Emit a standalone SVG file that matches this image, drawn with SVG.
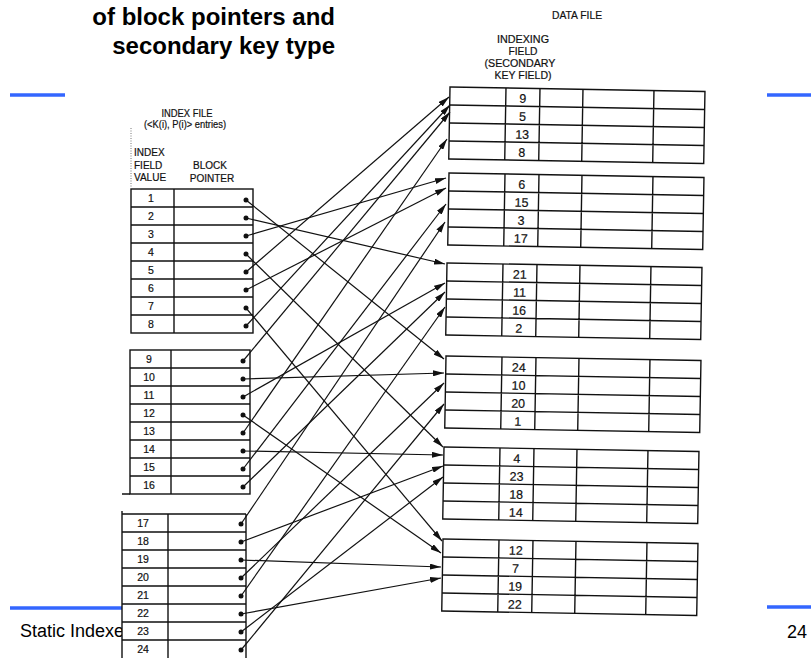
<svg xmlns="http://www.w3.org/2000/svg" width="811" height="658" viewBox="0 0 811 658">
  <defs>
    <style>
      .title { font-family: "Liberation Sans", Arial, sans-serif; font-weight: bold; font-size: 24px; fill: #000; text-anchor: end; }
      .foot { font-family: "Liberation Sans", Arial, sans-serif; font-size: 18px; fill: #000; }
      .rule { stroke: #3366ff; stroke-width: 3.5; fill: none; }
      .hdr { font-family: "Liberation Sans", Arial, sans-serif; font-size: 10px; fill: #111; stroke: #111; stroke-width: 0.2; text-anchor: middle; }
      .hdrl { font-family: "Liberation Sans", Arial, sans-serif; font-size: 10px; fill: #111; stroke: #111; stroke-width: 0.2; }
      .grid { stroke: #111; stroke-width: 1.4; fill: none; }
      .ik { font-family: "Liberation Sans", Arial, sans-serif; font-size: 10.5px; fill: #111; stroke: #111; stroke-width: 0.2; text-anchor: middle; }
      .dk { font-family: "Liberation Sans", Arial, sans-serif; font-size: 12.5px; fill: #111; stroke: #111; stroke-width: 0.2; text-anchor: middle; }
      .dot { fill: #111; }
      .link { stroke: #111; stroke-width: 1.2; fill: none; marker-end: url(#head); }
    </style>
    <marker id="head" markerWidth="11" markerHeight="6" refX="11" refY="3" orient="auto" markerUnits="userSpaceOnUse">
      <path d="M0,0 L11,3 L0,6 z" fill="#111"/>
    </marker>
    <!-- one data block: 4 records, 5 fields -->
    <g id="dblock">
      <rect class="grid" x="0" y="0" width="255" height="72"/>
      <path class="grid" d="M56,0V72M90,0V72M133,0V72M204,0V72M0,18H255M0,36H255M0,54H255"/>
    </g>
  </defs>

  <rect width="811" height="658" fill="#fff"/>

  <!-- slide title and frame rules -->
  <g id="title">
    <text class="title" x="335" y="25">of block pointers and</text>
    <text class="title" x="335" y="53.5">secondary key type</text>
  </g>
  <g id="rules">
    <line class="rule" x1="10" y1="95" x2="65" y2="95"/>
    <line class="rule" x1="767" y1="95" x2="811" y2="95"/>
    <line class="rule" x1="10" y1="608" x2="122" y2="608"/>
    <line class="rule" x1="767" y1="607" x2="811" y2="607"/>
  </g>
  <g id="footer">
    <text class="foot" x="20" y="637">Static Indexe</text>
    <text class="foot" x="807" y="638" text-anchor="end">24</text>
  </g>

  <!-- index file -->
  <g id="index-header">
    <text class="hdr" x="187" y="117" textLength="51" lengthAdjust="spacingAndGlyphs">INDEX FILE</text>
    <text class="hdr" x="185" y="128" textLength="82" lengthAdjust="spacingAndGlyphs" stroke-width="0.1">(&lt;K(i), P(i)&gt; entries)</text>
    <line x1="131" y1="128" x2="131" y2="188" stroke="#777" stroke-width="1" stroke-dasharray="1 1.5"/>
    <text class="hdrl" x="134" y="156">INDEX</text>
    <text class="hdrl" x="134" y="169">FIELD</text>
    <text class="hdrl" x="134" y="181">VALUE</text>
    <text class="hdr" x="210" y="169">BLOCK</text>
    <text class="hdr" x="212" y="182">POINTER</text>
  </g>

  <g id="index-block-1">
    <rect class="grid" x="131" y="189" width="122" height="144"/>
    <path class="grid" d="M174,189V333M131,207H253M131,225H253M131,243H253M131,261H253M131,279H253M131,297H253M131,315H253"/>
    <g class="ik">
      <text x="151" y="202">1</text><text x="151" y="220">2</text><text x="151" y="238">3</text><text x="151" y="256">4</text>
      <text x="151" y="274">5</text><text x="151" y="292">6</text><text x="151" y="310">7</text><text x="151" y="328">8</text>
    </g>
    <g class="dot">
      <circle cx="246" cy="200" r="2.5"/><circle cx="246" cy="218" r="2.5"/><circle cx="246" cy="236" r="2.5"/><circle cx="246" cy="254" r="2.5"/>
      <circle cx="246" cy="272" r="2.5"/><circle cx="246" cy="290" r="2.5"/><circle cx="246" cy="308" r="2.5"/><circle cx="246" cy="326" r="2.5"/>
    </g>
  </g>

  <g id="index-block-2">
    <rect class="grid" x="130" y="350" width="120" height="144"/>
    <path class="grid" d="M171,350V494M130,368H250M130,386H250M130,404H250M130,422H250M130,440H250M130,458H250M130,476H250M122,494H130"/>
    <g class="ik">
      <text x="149" y="363">9</text><text x="149" y="381">10</text><text x="149" y="399">11</text><text x="149" y="417">12</text>
      <text x="149" y="435">13</text><text x="149" y="453">14</text><text x="149" y="471">15</text><text x="149" y="489">16</text>
    </g>
    <g class="dot">
      <circle cx="243" cy="361" r="2.5"/><circle cx="243" cy="379" r="2.5"/><circle cx="243" cy="397" r="2.5"/><circle cx="243" cy="415" r="2.5"/>
      <circle cx="243" cy="433" r="2.5"/><circle cx="243" cy="451" r="2.5"/><circle cx="243" cy="469" r="2.5"/><circle cx="243" cy="487" r="2.5"/>
    </g>
  </g>

  <g id="index-block-3">
    <rect x="122" y="505" width="128" height="153" fill="#fff"/>
    <path class="grid" d="M122,511V658M246,514V658M168,514V658M122,514H246M122,532H246M122,550H246M122,568H246M122,586H246M122,604H246M122,622H246M122,640H246"/>
    <g class="ik">
      <text x="143" y="527">17</text><text x="143" y="545">18</text><text x="143" y="563">19</text><text x="143" y="581">20</text>
      <text x="143" y="599">21</text><text x="143" y="617">22</text><text x="143" y="635">23</text><text x="143" y="653">24</text>
    </g>
    <g class="dot">
      <circle cx="241" cy="524" r="2.5"/><circle cx="241" cy="542" r="2.5"/><circle cx="241" cy="560" r="2.5"/><circle cx="241" cy="578" r="2.5"/>
      <circle cx="241" cy="596" r="2.5"/><circle cx="241" cy="614" r="2.5"/><circle cx="241" cy="632" r="2.5"/><circle cx="241" cy="650" r="2.5"/>
    </g>
  </g>

  <!-- data file -->
  <g id="data-header">
    <text class="hdr" x="577" y="19" textLength="50" lengthAdjust="spacingAndGlyphs">DATA FILE</text>
    <text class="hdr" x="523" y="43" textLength="52" lengthAdjust="spacingAndGlyphs">INDEXING</text>
    <text class="hdr" x="523" y="55" textLength="29" lengthAdjust="spacingAndGlyphs">FIELD</text>
    <text class="hdr" x="520" y="67" textLength="71" lengthAdjust="spacingAndGlyphs">(SECONDARY</text>
    <text class="hdr" x="523" y="79" textLength="57" lengthAdjust="spacingAndGlyphs">KEY FIELD)</text>
  </g>

  <g id="data-block-1" transform="translate(450,87) rotate(1)">
    <use href="#dblock"/>
    <g class="dk"><text x="73" y="14.5">9</text><text x="73" y="32.5">5</text><text x="73" y="50.5">13</text><text x="73" y="68.5">8</text></g>
  </g>
  <g id="data-block-2" transform="translate(449,173) rotate(1)">
    <use href="#dblock"/>
    <g class="dk"><text x="73" y="14.5">6</text><text x="73" y="32.5">15</text><text x="73" y="50.5">3</text><text x="73" y="68.5">17</text></g>
  </g>
  <g id="data-block-3" transform="translate(447,263) rotate(1)">
    <use href="#dblock"/>
    <g class="dk"><text x="73" y="14.5">21</text><text x="73" y="32.5">11</text><text x="73" y="50.5">16</text><text x="73" y="68.5">2</text></g>
  </g>
  <g id="data-block-4" transform="translate(446,356) rotate(1)">
    <use href="#dblock"/>
    <g class="dk"><text x="73" y="14.5">24</text><text x="73" y="32.5">10</text><text x="73" y="50.5">20</text><text x="73" y="68.5">1</text></g>
  </g>
  <g id="data-block-5" transform="translate(444,447) rotate(1)">
    <use href="#dblock"/>
    <g class="dk"><text x="73" y="14.5">4</text><text x="73" y="32.5">23</text><text x="73" y="50.5">18</text><text x="73" y="68.5">14</text></g>
  </g>
  <g id="data-block-6" transform="translate(443,539) rotate(1)">
    <use href="#dblock"/>
    <g class="dk"><text x="73" y="14.5">12</text><text x="73" y="32.5">7</text><text x="73" y="50.5">19</text><text x="73" y="68.5">22</text></g>
  </g>

  <!-- block pointers: index entry -> data block holding the record -->
  <g id="connectors">
    <line class="link" x1="246" y1="200" x2="444" y2="359"/>
    <line class="link" x1="246" y1="218" x2="445" y2="264"/>
    <line class="link" x1="246" y1="236" x2="446" y2="178"/>
    <line class="link" x1="246" y1="254" x2="443" y2="447"/>
    <line class="link" x1="246" y1="272" x2="449" y2="97"/>
    <line class="link" x1="246" y1="290" x2="446" y2="188"/>
    <line class="link" x1="246" y1="308" x2="442" y2="541"/>
    <line class="link" x1="246" y1="326" x2="450" y2="105"/>
    <line class="link" x1="243" y1="361" x2="450" y2="112"/>
    <line class="link" x1="243" y1="379" x2="444" y2="373"/>
    <line class="link" x1="243" y1="397" x2="445" y2="283"/>
    <line class="link" x1="243" y1="415" x2="441" y2="553"/>
    <line class="link" x1="243" y1="433" x2="447" y2="139"/>
    <line class="link" x1="243" y1="451" x2="443" y2="455"/>
    <line class="link" x1="243" y1="469" x2="446" y2="204"/>
    <line class="link" x1="243" y1="487" x2="445" y2="292"/>
    <line class="link" x1="241" y1="524" x2="445" y2="222"/>
    <line class="link" x1="241" y1="542" x2="443" y2="466"/>
    <line class="link" x1="241" y1="560" x2="441" y2="567"/>
    <line class="link" x1="241" y1="578" x2="444" y2="383"/>
    <line class="link" x1="241" y1="596" x2="445" y2="307"/>
    <line class="link" x1="241" y1="614" x2="441" y2="578"/>
    <line class="link" x1="241" y1="632" x2="443" y2="477"/>
    <line class="link" x1="241" y1="650" x2="444" y2="404"/>
  </g>
</svg>
